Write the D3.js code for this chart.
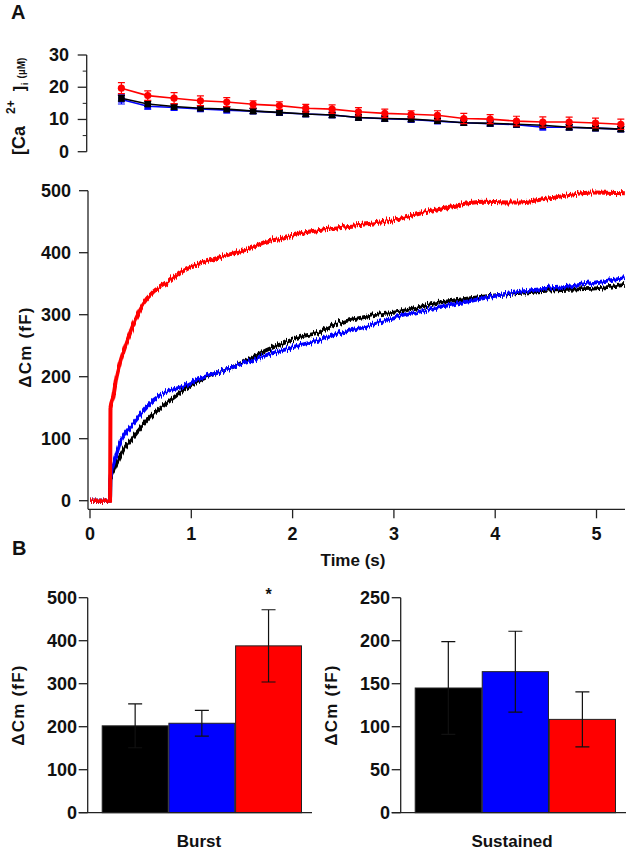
<!DOCTYPE html>
<html><head><meta charset="utf-8">
<script src="https://cdn.jsdelivr.net/npm/d3@7"></script>
<style>
body{margin:0;background:#fff}
svg{display:block}
text{font-family:"Liberation Sans",Arial,Helvetica,sans-serif;font-weight:bold;fill:#111}
</style>
</head><body><div id="chart"></div>
<script>
// ---------- Panel A (top): [Ca2+]i ----------
const caTime  = [0.31,0.57,0.83,1.09,1.35,1.61,1.87,2.13,2.39,2.65,2.91,3.17,3.43,3.69,3.95,4.21,4.47,4.73,4.99,5.24];
const caRed   = [19.7,17.4,16.6,15.8,15.4,14.7,14.3,13.5,13.2,12.4,11.9,11.6,11.3,10.3,10.1,9.5,9.2,9.2,8.9,8.5];
const caRedErr= [1.7,1.5,1.7,1.5,1.4,1.1,1.2,1.2,1.3,1.3,1.3,1.1,1.4,1.6,1.4,1.5,1.6,1.5,1.5,1.6];
const caBlack = [16.6,14.8,14.0,13.5,13.2,12.6,12.2,11.7,11.4,10.6,10.3,10.1,9.6,9.0,8.8,8.5,8.2,7.6,7.3,7.0];
const caBlackErr=[0.9,0.8,0.8,0.8,0.8,0.8,0.8,0.8,0.8,0.8,0.8,0.8,0.8,0.8,0.8,0.8,0.8,0.8,0.8,0.8];
const caBlue  = [16.2,14.1,13.7,13.3,12.9,12.6,12.1,11.7,11.4,10.6,10.2,10.0,9.5,9.0,8.7,8.4,7.6,7.6,7.3,7.0];
const caBlueErr=[1.4,0.9,0.9,0.9,0.9,0.8,0.8,0.8,0.8,0.8,0.8,0.8,0.8,0.8,0.8,0.8,0.8,0.8,0.8,0.8];
const caTicks = [0,10,20,30];
const caMinor = [5,15,25];

// ---------- Panel A (bottom): ΔCm traces ----------
const redT = [0,0.05,0.1,0.15,0.198,0.202,0.23,0.263,0.296,0.33,0.395,0.46,0.526,0.625,0.757,0.92,1.086,1.25,1.415,1.58,1.744,1.91,2.07,2.24,2.40,2.73,2.96,3.23,3.55,3.88,4.21,4.54,4.97,5.28];
const redV = [0,0,0,0,0,150,168,200,222,240,270,297,318,337,351,372,383,391,399,407,418,423,431,436,440,446,451,462,474,482,481,488,497,496];
const bkT  = [0,0.05,0.1,0.15,0.198,0.202,0.23,0.263,0.296,0.33,0.43,0.525,0.625,0.757,0.92,1.086,1.25,1.415,1.58,1.744,1.91,2.07,2.27,2.40,2.73,3.06,3.39,3.72,4.05,4.38,4.70,5.03,5.28];
const bkV  = [0,0,0,0,0,35,48,60,71,82,103,122,140,157,178,194,206,216,229,243,254,264,272,283,297,305,318,326,332,337,340,343,348];
const blT  = bkT;
const blV  = [0,0,0,0,0,40,58,76,93,104,125,144,162,176,184,197,206,216,225,235,243,251,259,267,281,297,310,321,332,340,345,353,359];
const cmTicks = [0,100,200,300,400,500];
const timeTicks = [0,1,2,3,4,5];

// ---------- Panel B: bars ----------
const groups   = ["g1","g2","g3"];
const barColors= ["#000000","#0000ff","#ff0000"];
const burstVal = [202,208,388];
const burstErr = [51,30,84];
const sustVal  = [145,164,108.5];
const sustErr  = [54,47,32];
const burstTicks=[0,100,200,300,400,500];
const sustTicks =[0,50,100,150,200,250];

const W=627,H=853;
const svg=d3.select("#chart").append("svg").attr("width",W).attr("height",H);
const AX="#222";
const FS=18;

// noise texture for the capacitance traces (vertical jitter only; visual style)
const defs=svg.append("defs");
const flt=defs.append("filter").attr("id","noisy").attr("filterUnits","userSpaceOnUse")
  .attr("x",80).attr("y",170).attr("width",560).attr("height",350);
flt.append("feTurbulence").attr("type","fractalNoise").attr("baseFrequency","0.8 0.02")
  .attr("numOctaves",2).attr("seed",7).attr("result","n");
flt.append("feColorMatrix").attr("in","n").attr("type","matrix")
  .attr("values","0 0 0 0 0.5  0 1 0 0 0  0 0 1 0 0  0 0 0 0 1").attr("result","n2");
flt.append("feDisplacementMap").attr("in","SourceGraphic").attr("in2","n2").attr("scale",8)
  .attr("xChannelSelector","R").attr("yChannelSelector","G");

const x=d3.scaleLinear([0,5.3],[90,626.9]);

// panel labels
svg.append("text").attr("x",11).attr("y",19).style("font-size","20px").text("A");
svg.append("text").attr("x",12).attr("y",555).style("font-size","20px").text("B");

// ===== Ca panel =====
const yCa=d3.scaleLinear([0,30],[151.7,55]);
const caAxX=86.7;
const gCa=svg.append("g");
gCa.append("line").attr("x1",caAxX).attr("x2",caAxX).attr("y1",yCa(30)).attr("y2",yCa(0)).attr("stroke",AX).attr("stroke-width",1.3);
gCa.selectAll(".t").data(caTicks).join("line").attr("x1",caAxX-9).attr("x2",caAxX)
  .attr("y1",d=>yCa(d)).attr("y2",d=>yCa(d)).attr("stroke",AX).attr("stroke-width",1.3);
gCa.selectAll(".m").data(caMinor).join("line").attr("x1",caAxX-4).attr("x2",caAxX)
  .attr("y1",d=>yCa(d)).attr("y2",d=>yCa(d)).attr("stroke",AX).attr("stroke-width",1);
gCa.selectAll(".lbl").data(caTicks).join("text").attr("x",69).attr("y",d=>yCa(d)+6)
  .attr("text-anchor","end").style("font-size",FS+"px").text(d=>d);
// Ca y title
const caT=svg.append("text").attr("transform","translate(25,155) rotate(-90)").style("font-size","18px");
caT.append("tspan").text("[Ca");
caT.append("tspan").attr("dx",12).attr("dy",-10).style("font-size","12px").text("2+");
caT.append("tspan").attr("dx",9).attr("dy",10).style("font-size","16px").text("]");
caT.append("tspan").attr("dx",1).attr("dy",3).style("font-size","9px").text("i");
caT.append("tspan").attr("dx",4).attr("dy",-3).style("font-size","10px").text("(µM)");

function caSeries(vals,errs,color,shape){
  const pts=caTime.map((t,i)=>({t,v:vals[i],e:errs[i]}));
  const g=gCa.append("g");
  g.append("path").datum(pts).attr("fill","none").attr("stroke",color).attr("stroke-width",1.6)
    .attr("d",d3.line().x(d=>x(d.t)).y(d=>yCa(d.v)));
  g.selectAll(".eb").data(pts).join("path").attr("fill","none").attr("stroke",color).attr("stroke-width",1.2)
    .attr("d",d=>{const X=x(d.t),y1=yCa(d.v+d.e),y2=yCa(d.v-d.e);
      return `M${X},${y1}V${y2}M${X-3.5},${y1}H${X+3.5}M${X-3.5},${y2}H${X+3.5}`;});
  if(shape==="circle"){
    g.selectAll(".mk").data(pts).join("circle").attr("cx",d=>x(d.t)).attr("cy",d=>yCa(d.v)).attr("r",3.6).attr("fill",color);
  } else {
    g.selectAll(".mk").data(pts).join("rect").attr("x",d=>x(d.t)-3.2).attr("y",d=>yCa(d.v)-3.2)
      .attr("width",6.4).attr("height",6.4).attr("fill",color);
  }
}
caSeries(caBlue,caBlueErr,"#0000ff","square");
caSeries(caBlack,caBlackErr,"#000000","square");
caSeries(caRed,caRedErr,"#ff0000","circle");

// ===== ΔCm traces =====
const yCm=d3.scaleLinear([0,500],[500.7,190.7]);
const axX=88, axY=509.3;
const gM=svg.append("g");
gM.append("line").attr("x1",axX).attr("x2",axX).attr("y1",yCm(500)).attr("y2",axY).attr("stroke",AX).attr("stroke-width",1.3);
gM.append("line").attr("x1",axX).attr("x2",625).attr("y1",axY).attr("y2",axY).attr("stroke",AX).attr("stroke-width",1.3);
gM.selectAll(".yt").data(cmTicks).join("line").attr("x1",axX-9).attr("x2",axX)
  .attr("y1",d=>yCm(d)).attr("y2",d=>yCm(d)).attr("stroke",AX).attr("stroke-width",1.3);
gM.selectAll(".yl").data(cmTicks).join("text").attr("x",71).attr("y",d=>yCm(d)+6)
  .attr("text-anchor","end").style("font-size",FS+"px").text(d=>d);
gM.selectAll(".xt").data(timeTicks).join("line").attr("x1",d=>x(d)).attr("x2",d=>x(d))
  .attr("y1",axY).attr("y2",axY+9).attr("stroke",AX).attr("stroke-width",1.3);
gM.selectAll(".xl").data(timeTicks).join("text").attr("x",d=>x(d)).attr("y",540)
  .attr("text-anchor","middle").style("font-size",FS+"px").text(d=>d);
svg.append("text").attr("x",353).attr("y",566).attr("text-anchor","middle").style("font-size","17px").text("Time (s)");
svg.append("text").attr("transform","translate(31,347) rotate(-90)").attr("text-anchor","middle")
  .style("font-size","17px").style("letter-spacing","1.2px").text("ΔCm  (fF)");

const line=d3.line().x(d=>x(d[0])).y(d=>yCm(d[1])).curve(d3.curveMonotoneX);
const gTr=gM.append("g").attr("filter","url(#noisy)");
gTr.append("path").datum(bkT.map((t,i)=>[t,bkV[i]])).attr("fill","none").attr("stroke","#000").attr("stroke-width",3.8).attr("d",line);
gTr.append("path").datum(blT.map((t,i)=>[t,blV[i]])).attr("fill","none").attr("stroke","#0000ff").attr("stroke-width",3.8).attr("d",line);
gTr.append("path").datum(redT.map((t,i)=>[t,redV[i]])).attr("fill","none").attr("stroke","#ff0000").attr("stroke-width",4).attr("d",line);

// ===== Bar charts =====
function barChart(axisX, xEnd, vals, errs, ticks, ymax, labelX, labelTxt, labelRight, star){
  const y=d3.scaleLinear([0,ymax],[812.7,597.7]);
  const xb=d3.scaleBand().domain(groups).range([axisX+14.5,xEnd-10.5]).paddingInner(0.012);
  const g=svg.append("g");
  g.selectAll(".bar").data(groups).join("rect")
    .attr("x",d=>xb(d)).attr("width",xb.bandwidth())
    .attr("y",(d,i)=>y(vals[i])).attr("height",(d,i)=>y(0)-y(vals[i]))
    .attr("fill",(d,i)=>barColors[i]).attr("stroke","#222").attr("stroke-width",1);
  g.selectAll(".err").data(groups).join("path").attr("fill","none").attr("stroke","#111").attr("stroke-width",1.2)
    .attr("d",(d,i)=>{const X=xb(d)+xb.bandwidth()/2,y1=y(vals[i]+errs[i]),y2=y(vals[i]-errs[i]);
      return `M${X},${y1}V${y2}M${X-7},${y1}H${X+7}M${X-7},${y2}H${X+7}`;});
  g.append("line").attr("x1",axisX).attr("x2",axisX).attr("y1",y(ymax)).attr("y2",y(0)).attr("stroke",AX).attr("stroke-width",1.3);
  g.append("line").attr("x1",axisX-9).attr("x2",xEnd).attr("y1",y(0)).attr("y2",y(0)).attr("stroke",AX).attr("stroke-width",1.3);
  g.selectAll(".t").data(ticks).join("line").attr("x1",axisX-9).attr("x2",axisX)
    .attr("y1",d=>y(d)).attr("y2",d=>y(d)).attr("stroke",AX).attr("stroke-width",1.3);
  g.selectAll(".tl").data(ticks).join("text").attr("x",labelRight).attr("y",d=>y(d)+6)
    .attr("text-anchor","end").style("font-size",FS+"px").text(d=>d);
  g.append("text").attr("transform",`translate(${axisX-64},705) rotate(-90)`).attr("text-anchor","middle")
    .style("font-size","17px").style("letter-spacing","1.2px").text("ΔCm  (fF)");
  g.append("text").attr("x",labelX).attr("y",847).attr("text-anchor","middle").style("font-size","17px").text(labelTxt);
  if(star){
    const i=groups.indexOf(star);
    g.append("text").attr("x",xb(star)+xb.bandwidth()/2).attr("y",y(vals[i]+errs[i])-10)
      .attr("text-anchor","middle").style("font-size","16px").text("*");
  }
}
barChart(87.7,312,burstVal,burstErr,burstTicks,500,199,"Burst",77,"g3");
barChart(400.7,626,sustVal,sustErr,sustTicks,250,512,"Sustained",390,null);
</script>
</body></html>
